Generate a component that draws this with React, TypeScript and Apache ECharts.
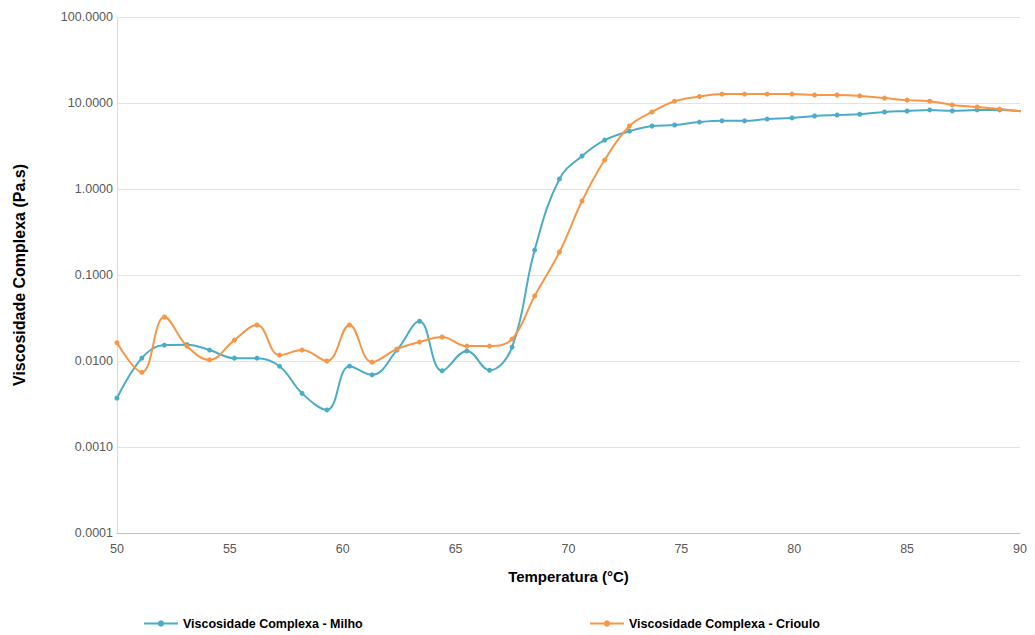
import React, { useEffect, useRef } from "react";
import * as echarts from "echarts";

const temperatures = [
  50.0, 51.1, 52.1, 53.1, 54.1, 55.2, 56.2, 57.2, 58.2, 59.3,
  60.3, 61.3, 62.4, 63.4, 64.4, 65.5, 66.5, 67.5, 68.5, 69.6,
  70.6, 71.6, 72.7, 73.7, 74.7, 75.8, 76.8, 77.8, 78.8, 79.9,
  80.9, 81.9, 82.9, 84.0, 85.0, 86.0, 87.0, 88.1, 89.1, 90.1,
];

const milho = [
  0.0037, 0.0108, 0.0153, 0.0155, 0.0134, 0.0108, 0.0108, 0.0087, 0.0042, 0.0027,
  0.0087, 0.0069, 0.0134, 0.029, 0.0077, 0.0131, 0.0078, 0.0145, 0.195, 1.31,
  2.42, 3.7, 4.7, 5.4, 5.55, 6.0, 6.2, 6.2, 6.5, 6.7,
  7.06, 7.25, 7.4, 7.86, 8.07, 8.3, 8.1, 8.3, 8.3, 8.0,
];

const crioulo = [
  0.0163, 0.0074, 0.0325, 0.0149, 0.0103, 0.0175, 0.0262, 0.0117, 0.0134, 0.01,
  0.0262, 0.0097, 0.0138, 0.0166, 0.019, 0.0149, 0.0149, 0.018, 0.057, 0.185,
  0.725, 2.17, 5.4, 7.86, 10.5, 11.9, 12.7, 12.7, 12.7, 12.7,
  12.4, 12.4, 12.1, 11.4, 10.8, 10.5, 9.5, 9.0, 8.5, 8.0,
];

const seriesNames = ["Viscosidade Complexa - Milho", "Viscosidade Complexa - Crioulo"];
const xTitle = "Temperatura (°C)";
const yTitle = "Viscosidade Complexa (Pa.s)";

const FONT = "Liberation Sans, Arial, sans-serif";

export default function App() {
  const ref = useRef<HTMLDivElement>(null);
  useEffect(() => {
    if (!ref.current) return;
    const chart = echarts.init(ref.current, null, { renderer: "svg" });
    const mk = (vals: number[]) => temperatures.map((t, i) => [t, vals[i]]);
    const legendText = { fontFamily: FONT, fontSize: 12.5, fontWeight: "bold", color: "#000" };
    chart.setOption({
      animation: false,
      backgroundColor: "#ffffff",
      textStyle: { fontFamily: FONT },
      grid: { left: 117, top: 17, right: 15, bottom: 102, containLabel: false },
      legend: [
        {
          data: [seriesNames[0]],
          left: 138,
          top: 612,
          itemWidth: 34,
          itemHeight: 8,
          itemGap: 4,
          textStyle: legendText,
        },
        {
          data: [seriesNames[1]],
          left: 584,
          top: 612,
          itemWidth: 34,
          itemHeight: 8,
          textStyle: legendText,
        },
      ],
      xAxis: {
        type: "value",
        min: 50,
        max: 90,
        interval: 5,
        name: xTitle,
        nameLocation: "middle",
        nameGap: 36,
        nameTextStyle: { fontFamily: FONT, fontSize: 15, fontWeight: "bold", color: "#000" },
        axisLine: { show: true, lineStyle: { color: "#bfbfbf" } },
        axisTick: { show: false },
        axisLabel: { fontFamily: FONT, fontSize: 12.5, color: "#595959", margin: 9 },
        splitLine: { show: false },
      },
      yAxis: {
        type: "log",
        logBase: 10,
        min: 0.0001,
        max: 100,
        name: yTitle,
        nameLocation: "middle",
        nameGap: 90,
        nameTextStyle: { fontFamily: FONT, fontSize: 16, fontWeight: "bold", color: "#000" },
        axisLine: { show: true, lineStyle: { color: "#d9d9d9" } },
        axisTick: { show: false },
        axisLabel: {
          fontFamily: FONT,
          fontSize: 12.5,
          color: "#595959",
          margin: 4,
          formatter: (v: number) => v.toFixed(4),
        },
        splitLine: { show: true, lineStyle: { color: "#e3e3e3" } },
      },
      series: [
        {
          name: seriesNames[0],
          type: "line",
          data: mk(milho),
          smooth: 0.4,
          symbol: "circle",
          symbolSize: 5,
          clip: true,
          lineStyle: { color: "#4bacc6", width: 2 },
          itemStyle: { color: "#4bacc6" },
        },
        {
          name: seriesNames[1],
          type: "line",
          data: mk(crioulo),
          smooth: 0.4,
          symbol: "circle",
          symbolSize: 5,
          clip: true,
          lineStyle: { color: "#f79646", width: 2 },
          itemStyle: { color: "#f79646" },
        },
      ],
    });
    return () => chart.dispose();
  }, []);
  return (
    <div
      ref={ref}
      style={{ position: "fixed", left: 0, top: 0, width: 1035, height: 635 }}
    />
  );
}
